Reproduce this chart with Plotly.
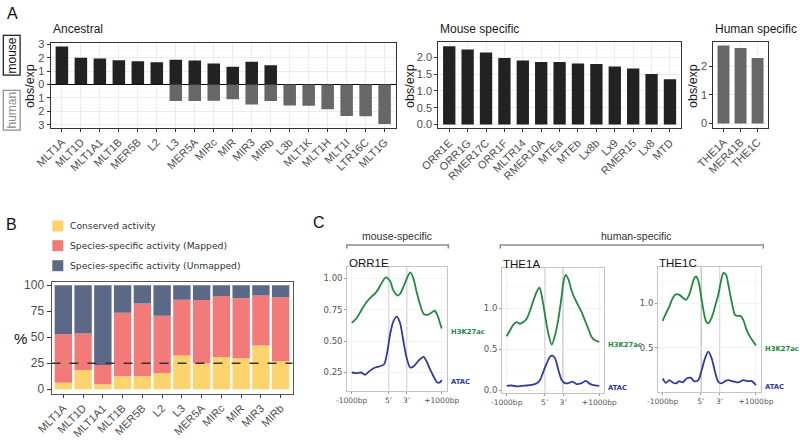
import plotly.graph_objects as go

W, H = 800, 442
OFF = 0

# ---------------- Panel A data ----------------
anc_cats = ["MLT1A", "MLT1D", "MLT1A1", "MLT1B", "MER5B", "L2", "L3", "MER5A", "MIRc",
            "MIR", "MIR3", "MIRb", "L3b", "MLT1K", "MLT1H", "MLT1I", "LTR16C", "MLT1G"]
anc_mouse_cats = anc_cats[:12]
anc_mouse = [2.84, 2.00, 1.93, 1.80, 1.73, 1.65, 1.85, 1.78, 1.56, 1.33, 1.70, 1.43]
anc_human_cats = anc_cats[6:]
anc_human = [1.23, 1.23, 1.21, 1.09, 1.48, 1.23, 1.56, 1.58, 1.85, 2.35, 2.37, 2.94]
anc_ticks = [-3, -2, -1, 0, 1, 2, 3]
anc_ticktext = ["3", "2", "1", "0", "1", "2", "3"]

mouse_spec_cats = ["ORR1E", "ORR1G", "RMER17C", "ORR1F", "MLTR14", "RMER10A", "MTEa",
                   "MTEb", "Lx8b", "Lx9", "RMER15", "Lx8", "MTD"]
mouse_spec = [2.34, 2.24, 2.15, 1.99, 1.91, 1.87, 1.87, 1.82, 1.81, 1.73, 1.67, 1.51, 1.35]

human_spec_cats = ["THE1A", "MER41B", "THE1C"]
human_spec = [2.71, 2.63, 2.28]

# ---------------- Panel B data ----------------
b_cats = ["MLT1A", "MLT1D", "MLT1A1", "MLT1B", "MER5B", "L2", "L3", "MER5A", "MIRc", "MIR", "MIR3", "MIRb"]
b_conserved = [6.2, 18.3, 4.6, 12.5, 12.5, 15.2, 32.3, 24.8, 31.0, 29.7, 41.9, 26.8]
b_mapped = [46.7, 35.2, 18.6, 60.9, 69.9, 55.5, 53.8, 61.0, 58.7, 57.7, 48.1, 61.6]
b_unmapped = [47.1, 46.5, 76.8, 26.6, 17.6, 29.3, 13.9, 14.2, 10.3, 12.6, 10.0, 11.6]
b_names = ["Conserved activity", "Species-specific activity (Mapped)", "Species-specific activity (Unmapped)"]
b_threshold = 25

# ---------------- Panel C data ----------------
c_ticktext = ["-1000bp", "5\u2019", "3\u2019", "+1000bp"]
c_tickpos = [0, 41, 61, 100]

orr1e_h_x = [0, 5.6, 11, 17, 22, 26, 30, 33, 38, 43, 46, 51, 54, 59, 65, 68.5, 72, 76, 80, 84, 88, 92, 95, 98, 100]
orr1e_h = [0.645, 0.684, 0.75, 0.816, 0.855, 0.88, 0.92, 0.96, 1.008, 0.974, 0.908, 0.863, 0.88, 0.96,
           1.047, 1.0, 0.895, 0.79, 0.716, 0.71, 0.724, 0.742, 0.71, 0.645, 0.60]
orr1e_a_x = [0, 5.6, 10, 15, 20, 26, 31.5, 36, 39, 42.6, 46.3, 50, 53.7, 57.4, 61, 65, 69, 74, 79.6, 83, 87, 91.5, 95, 98, 100]
orr1e_a = [0.25, 0.245, 0.25, 0.232, 0.263, 0.29, 0.30, 0.316, 0.395, 0.553, 0.658, 0.695, 0.645, 0.5,
           0.368, 0.29, 0.30, 0.342, 0.374, 0.342, 0.276, 0.21, 0.171, 0.171, 0.19]

the1a_h_x = [0, 3.6, 7.2, 10.8, 14.4, 18, 21.6, 25.2, 28.8, 32.4, 35.3, 37.8, 41.4, 45, 48.6, 52.2, 55.8,
             59.4, 61.2, 63.7, 66.5, 70.1, 73.7, 77.3, 80.9, 84.5, 88.1, 91.7, 95.3, 100]
the1a_h = [0.659, 0.731, 0.80, 0.831, 0.811, 0.831, 0.871, 0.972, 1.092, 1.2, 1.249, 1.153, 0.912, 0.69,
           0.558, 0.671, 0.871, 1.153, 1.313, 1.406, 1.353, 1.213, 1.112, 1.032, 0.952, 0.851, 0.751,
           0.651, 0.61, 0.59]
the1a_a_x = [0, 5.4, 10.8, 16.2, 21.6, 27, 32.4, 36, 39.6, 43.2, 46.8, 49.3, 52.2, 55.8, 59.4, 63, 66.5,
             70.9, 75.5, 80.9, 85.3, 89.9, 95.3, 100]
the1a_a = [0.056, 0.06, 0.048, 0.056, 0.06, 0.068, 0.088, 0.128, 0.229, 0.329, 0.41, 0.422, 0.39, 0.249,
           0.128, 0.088, 0.088, 0.108, 0.076, 0.088, 0.116, 0.08, 0.06, 0.056]

the1c_h_x = [0, 3.6, 7.1, 10.7, 14.3, 17.9, 21.4, 25, 28.6, 31.1, 33.6, 35.7, 38.2, 40.7, 43.6, 46.4,
             48.9, 52.5, 56.1, 59.6, 62.1, 65, 67.9, 70.4, 73.9, 77.5, 80, 83.6, 86.4, 90, 93.6, 97.1, 100]
the1c_h = [0.80, 0.887, 0.962, 1.056, 1.10, 1.094, 1.064, 1.038, 1.10, 1.188, 1.274, 1.30, 1.252, 1.113,
           0.925, 0.80, 0.774, 0.838, 0.962, 1.094, 1.226, 1.338, 1.32, 1.207, 1.019, 0.868, 0.857,
           0.857, 0.812, 0.699, 0.624, 0.568, 0.523]
the1c_a_x = [0, 3.6, 7.1, 10.7, 14.3, 17.9, 21.4, 25.7, 30, 33.6, 38.2, 41.8, 45.4, 48.9, 52.5, 56.1,
             59.6, 63.2, 66.8, 70.4, 73.9, 77.5, 81.1, 86.4, 90.7, 95.4, 100]
the1c_a = [0.154, 0.105, 0.135, 0.109, 0.098, 0.124, 0.109, 0.154, 0.162, 0.124, 0.135, 0.248, 0.38,
           0.455, 0.38, 0.229, 0.117, 0.098, 0.124, 0.135, 0.124, 0.117, 0.109, 0.135, 0.124, 0.124, 0.079]

# ---------------- styling ----------------
BLACK_BAR = "#222222"
GRAY_BAR = "#676767"
COL_CONS = "#FDD36E"
COL_MAP = "#F27B79"
COL_UNMAP = "#5C6986"
GREEN = "#22893F"
BLUE = "#2E3C9C"
SANS = "Liberation Sans"


def px(x):
    return (x - OFF) / W


def py(y):
    return 1 - (y - OFF) / H


def xdom(l, r):
    return [px(l), px(r)]


def ydom(top, bottom):
    return [py(bottom), py(top)]


fig = go.Figure()

# Panel A - ancestral
fig.add_bar(x=anc_mouse_cats, y=anc_mouse, marker_color=BLACK_BAR, marker_line_width=0,
            width=0.66, xaxis="x", yaxis="y", showlegend=False)
fig.add_bar(x=anc_human_cats, y=[-v for v in anc_human], marker_color=GRAY_BAR, marker_line_width=0,
            width=0.66, xaxis="x", yaxis="y", showlegend=False)
# mouse specific
fig.add_bar(x=mouse_spec_cats, y=mouse_spec, marker_color=BLACK_BAR, marker_line_width=0,
            width=0.67, xaxis="x2", yaxis="y2", showlegend=False)
# human specific
fig.add_bar(x=human_spec_cats, y=human_spec, marker_color=GRAY_BAR, marker_line_width=0,
            width=0.7, xaxis="x3", yaxis="y3", showlegend=False)

# Panel B stacked
for vals, col, name in zip([b_conserved, b_mapped, b_unmapped], [COL_CONS, COL_MAP, COL_UNMAP], b_names):
    fig.add_bar(x=b_cats, y=vals, marker_color=col, marker_line_width=0, width=0.88,
                xaxis="x4", yaxis="y4", name=name, showlegend=False)

# Panel C
c_sets = [
    ("x5", "y5", orr1e_h_x, orr1e_h, orr1e_a_x, orr1e_a),
    ("x6", "y6", the1a_h_x, the1a_h, the1a_a_x, the1a_a),
    ("x7", "y7", the1c_h_x, the1c_h, the1c_a_x, the1c_a),
]
for xa, ya, hx, hy, ax_, ay in c_sets:
    fig.add_scatter(x=hx, y=hy, mode="lines", line=dict(color=GREEN, width=1.8, shape="spline", smoothing=0.8),
                    xaxis=xa, yaxis=ya, showlegend=False, hoverinfo="skip")
    fig.add_scatter(x=ax_, y=ay, mode="lines", line=dict(color=BLUE, width=1.8, shape="spline", smoothing=0.8),
                    xaxis=xa, yaxis=ya, showlegend=False, hoverinfo="skip")

axA = dict(showline=True, mirror=True, linecolor="#333333", linewidth=1, ticks="outside", ticklen=3,
           tickcolor="#333333", tickfont=dict(family=SANS, size=11, color="#4d4d4d"),
           showgrid=True, gridcolor="#ebebeb", gridwidth=1, zeroline=False, fixedrange=True,
           automargin=False)


def cat_axis(dom, cats, anchor):
    d = dict(axA)
    d.update(domain=dom, type="category", categoryorder="array", categoryarray=cats,
             range=[-0.6, len(cats) - 0.4], tickangle=-45, anchor=anchor)
    return d


layout = dict(
    template="none",
    width=W, height=H, autosize=False, margin=dict(l=0, r=0, t=0, b=0, pad=0),
    paper_bgcolor="white", plot_bgcolor="white", barmode="relative", bargap=0.1,
    font=dict(family=SANS),
)

layout["xaxis"] = cat_axis(xdom(50.5, 396), anc_cats, "y")
ya = dict(axA)
ya.update(domain=ydom(43.3, 127.5), range=[-3.2, 3.07], tickvals=anc_ticks, ticktext=anc_ticktext,
          anchor="x", zeroline=True, zerolinecolor="black", zerolinewidth=1,
          minor=dict(dtick=0.5, tick0=0.5, showgrid=True, gridcolor="#f3f3f3", gridwidth=0.6))
layout["yaxis"] = ya

layout["xaxis2"] = cat_axis(xdom(438.2, 681), mouse_spec_cats, "y2")
y2 = dict(axA)
y2.update(domain=ydom(42.3, 128.3), range=[-0.117, 2.457], tickvals=[0, 0.5, 1, 1.5, 2],
          tickformat=".1f", anchor="x2",
          minor=dict(dtick=0.25, tick0=0.25, showgrid=True, gridcolor="#f3f3f3", gridwidth=0.6))
layout["yaxis2"] = y2

layout["xaxis3"] = cat_axis(xdom(713.3, 767.8), human_spec_cats, "y3")
y3 = dict(axA)
y3.update(domain=ydom(41.7, 127.5), range=[-0.135, 2.845], tickvals=[0, 1, 2], anchor="x3",
          minor=dict(dtick=0.5, tick0=0.5, showgrid=True, gridcolor="#f3f3f3", gridwidth=0.6))
layout["yaxis3"] = y3

x4 = cat_axis(xdom(51.5, 292.5), b_cats, "y4")
x4.update(showgrid=False, linecolor="#555555")
layout["xaxis4"] = x4
y4 = dict(axA)
y4.update(domain=ydom(281.7, 393.5), range=[-4.2, 103.4], tickvals=[0, 25, 50, 75, 100], anchor="x4",
          showgrid=False, linecolor="#555555", ticklen=4,
          tickfont=dict(family=SANS, size=12, color="#4d4d4d"))
layout["yaxis4"] = y4

axC = dict(showline=True, mirror=True, linecolor="#c4c4c4", linewidth=1, ticks="outside", ticklen=2,
           tickcolor="#999999", tickfont=dict(family="DejaVu Sans", size=7.5, color="#555555"),
           showgrid=True, gridcolor="#f0f0f0", gridwidth=0.8, zeroline=False, fixedrange=True,
           automargin=False)

c_doms = [
    ("5", xdom(347.2, 446.7), ydom(266.7, 390.7), [0.105, 1.093], [0.25, 0.5, 0.75, 1.0], ".2f"),
    ("6", xdom(502.1, 604.4), ydom(268.3, 393.3), [-0.035, 1.485], [0.0, 0.5, 1.0], ".1f"),
    ("7", xdom(658.0, 761.1), ydom(266.7, 391.7), [0.005, 1.41], [0.5, 1.0], ".1f"),
]
for k, xd, yd, yr, tv, tf in c_doms:
    xx = dict(axC)
    xx.update(domain=xd, range=[-5, 105.5], tickvals=c_tickpos, ticktext=c_ticktext, anchor="y" + k,
              tickangle=0)
    yy = dict(axC)
    yy.update(domain=yd, range=yr, tickvals=tv, tickformat=tf, anchor="x" + k,
              tickfont=dict(family="DejaVu Sans", size=8.5, color="#555555"),
              minor=dict(dtick=0.125 if k == "5" else 0.25, showgrid=True, gridcolor="#f6f6f6", gridwidth=0.6))
    layout["xaxis" + k] = xx
    layout["yaxis" + k] = yy

fig.update_layout(**layout)

ann = []


def add_text(text, x, y, size, color="#1a1a1a", xanchor="left", yanchor="middle", family=SANS,
             angle=0, **kw):
    d = dict(text=text, x=px(x), y=py(y), xref="paper", yref="paper", showarrow=False,
             xanchor=xanchor, yanchor=yanchor, textangle=angle,
             font=dict(family=family, size=size, color=color))
    d.update(kw)
    ann.append(d)


# panel letters
add_text("A", 12.5, 13, 16, color="#111111", xanchor="center")
add_text("B", 11.5, 224, 16, color="#111111", xanchor="center")
add_text("C", 318.5, 222, 16, color="#111111", xanchor="center")

# panel A titles
add_text("Ancestral", 50.5, 29, 12)
add_text("Mouse specific", 438.3, 29, 12)
add_text("Human specific", 713.3, 29, 12)
add_text("obs/exp", 30, 86, 12.5, xanchor="center", angle=-90)
add_text("obs/exp", 410, 86, 12.5, xanchor="center", angle=-90)
add_text("obs/exp", 693, 86, 12.5, xanchor="center", angle=-90)
add_text("mouse", 11.7, 55, 12, color="#111111", xanchor="center", angle=-90,
         bordercolor="#111111", borderwidth=1.2, borderpad=1)
add_text("human", 11.7, 110, 12, color="#8a8a8a", xanchor="center", angle=-90,
         bordercolor="#8a8a8a", borderwidth=1.2, borderpad=1)

# panel B
add_text("%", 20.5, 338, 15, color="#111111", xanchor="center")
legend_rows = [226, 245.7, 265.7]
for name, yy in zip(b_names, legend_rows):
    add_text(name, 67.5, yy, 9.2, color="#333333", family="DejaVu Sans")

# panel C
add_text("mouse-specific", 396.7, 236, 10.5, color="#333333", xanchor="center")
add_text("human-specific", 636.7, 236, 10.5, color="#333333", xanchor="center")
add_text("ORR1E", 346.5, 263, 11.5, color="#111111")
add_text("THE1A", 501, 263.5, 11.5, color="#111111")
add_text("THE1C", 657, 263, 11.5, color="#111111")

for k, (xa, ya_, hx, hy, ax_, ay) in zip(["5", "6", "7"], c_sets):
    ann.append(dict(text="<b>H3K27ac</b>", x=hx[-1], y=hy[-1], xref=xa, yref=ya_, xanchor="left",
                    yanchor="middle", xshift=7, yshift=-3, showarrow=False,
                    font=dict(family="DejaVu Sans", size=6.8, color=GREEN)))
    ann.append(dict(text="<b>ATAC</b>", x=ax_[-1], y=ay[-1], xref=xa, yref=ya_, xanchor="left",
                    yanchor="middle", xshift=7, yshift=-2, showarrow=False,
                    font=dict(family="DejaVu Sans", size=6.8, color=BLUE)))

fig.update_layout(annotations=ann)

shapes = []
# legend keys for panel B
for col, yy in zip([COL_CONS, COL_MAP, COL_UNMAP], legend_rows):
    shapes.append(dict(type="rect", xref="paper", yref="paper", x0=px(52.3), x1=px(63.3),
                       y0=py(yy + 5.5), y1=py(yy - 5.5), fillcolor=col, line=dict(width=0)))
# threshold line
shapes.append(dict(type="line", xref="x4 domain", yref="y4", x0=0, x1=1, y0=b_threshold, y1=b_threshold,
                   line=dict(color="#333333", width=1.5, dash="dash")))
# 5' / 3' lines in panel C
for k in ["5", "6", "7"]:
    for pos in c_tickpos[1:3]:
        shapes.append(dict(type="line", xref="x" + k, yref="y" + k + " domain", x0=pos, x1=pos, y0=0, y1=1,
                           line=dict(color="#666666", width=0.9), layer="below"))
# brackets
for l, r in [(346.7, 448.3), (500.3, 763.3)]:
    path = "M {:.4f},{:.4f} L {:.4f},{:.4f} L {:.4f},{:.4f} L {:.4f},{:.4f}".format(
        px(l), py(248.5), px(l), py(245), px(r), py(245), px(r), py(248.5))
    shapes.append(dict(type="path", xref="paper", yref="paper", path=path,
                       line=dict(color="#8c8c8c", width=1.5)))
fig.update_layout(shapes=shapes)

fig.write_html("out.html", config={"displayModeBar": False, "staticPlot": True},
               post_script="document.body.style.margin='0px';")
